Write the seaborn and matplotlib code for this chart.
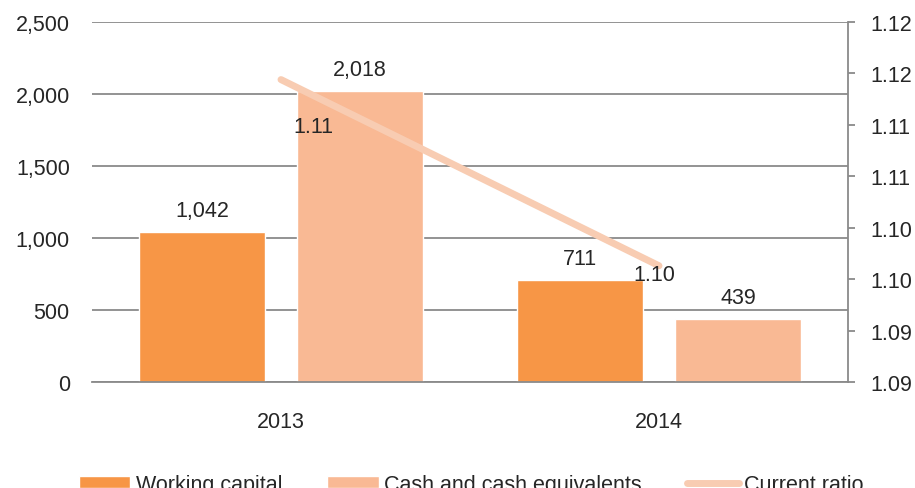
import matplotlib
matplotlib.use("Agg")
import matplotlib.pyplot as plt
import numpy as np
import pandas as pd
import seaborn as sns

years = ["2013", "2014"]
working_capital = [1042, 711]
cash_equivalents = [2018, 439]
current_ratio = [1.1144, 1.0963]
series_names = ["Working capital", "Cash and cash equivalents"]
ratio_name = "Current ratio"

bar_colors = ["#F79646", "#F9B994"]
line_color = "#F8CCB2"
grid_color = "#8A8A8A"

sns.set_style("white")
plt.rcParams["font.family"] = ["Liberation Sans", "DejaVu Sans"]
plt.rcParams["font.size"] = 15.5

df = pd.DataFrame({
    "year": years * 2,
    "series": [series_names[0]] * 2 + [series_names[1]] * 2,
    "value": working_capital + cash_equivalents,
})

fig = plt.figure(figsize=(9.15, 4.89), dpi=100)
ax = fig.add_axes([92 / 915, 1 - 383 / 489, (848 - 92) / 915, 360 / 489])

sns.barplot(data=df, x="year", y="value", hue="series", palette=bar_colors,
            width=0.836, gap=0.2, ax=ax, saturation=1, legend=True)
for cont in ax.containers:
    ax.bar_label(cont, labels=[f"{v:,.0f}" for v in cont.datavalues], padding=8)

ax.set_xlim(-0.5, 1.5)
ax.set_ylim(0, 2500)
ax.set_yticks(range(0, 2501, 500))
ax.set_yticklabels([f"{v:,}" for v in range(0, 2501, 500)])
ax.set_xlabel("")
ax.set_ylabel("")
ax.yaxis.grid(True, color=grid_color, lw=1.3)
ax.set_axisbelow(True)
ax.tick_params(axis="y", length=0, pad=16)
ax.tick_params(axis="x", length=0, pad=21)
for s in ["top", "left", "right"]:
    ax.spines[s].set_visible(False)
ax.spines["bottom"].set_color(grid_color)
ax.spines["bottom"].set_linewidth(1.3)

handles, labels = ax.get_legend_handles_labels()
ax.get_legend().remove()

ax2 = ax.twinx()
line_df = pd.DataFrame({"pos": np.arange(len(years)), "ratio": current_ratio})
sns.lineplot(data=line_df, x="pos", y="ratio", color=line_color, lw=5,
             solid_capstyle="round", ax=ax2, label=ratio_name)
ax2.get_legend().remove()
ax2.set_ylim(1.085, 1.12)
rticks = np.arange(1.085, 1.1201, 0.005)
ax2.set_yticks(rticks)
ax2.set_yticklabels([f"{v + 1e-9:.2f}" for v in rticks])
ax2.set_ylabel("")
ax2.set_xlabel("")
ax2.tick_params(axis="y", length=5, width=1.3, color=grid_color, pad=11)
for s in ["top", "left", "bottom"]:
    ax2.spines[s].set_visible(False)
ax2.spines["right"].set_color(grid_color)
ax2.spines["right"].set_linewidth(1.3)
ax2.set_xlim(-0.5, 1.5)

label_offsets = [(32, -47), (-5, -9)]
for i, (v, off) in enumerate(zip(current_ratio, label_offsets)):
    ax2.annotate(f"{v:.2f}", (i, v), xytext=off, textcoords="offset pixels",
                 ha="center", va="center")

h2, l2 = ax2.get_legend_handles_labels()
leg_handles = handles + h2
leg_labels = labels + l2
fig.legend(leg_handles, leg_labels, loc="center", bbox_to_anchor=(0.515, 0.008),
           ncol=3, frameon=False, handlelength=2.4, handleheight=0.47,
           handletextpad=0.25, columnspacing=2.1)

fig.savefig("out.png", dpi=100)
